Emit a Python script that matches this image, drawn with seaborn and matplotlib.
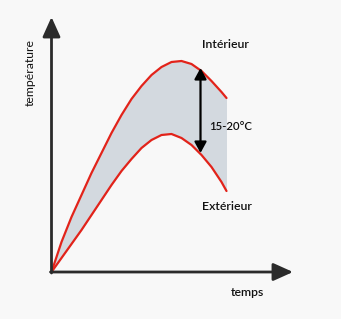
import numpy as np
import pandas as pd
import matplotlib
matplotlib.use("Agg")
import matplotlib.pyplot as plt
import seaborn as sns

# time (arbitrary units) and temperature (arbitrary units)
temps = [0, 10, 20, 30, 40, 50, 60, 70, 80, 90, 100, 110, 120, 130, 140, 150, 160, 170, 175]
interieur = [0, 30, 55, 77, 99, 119, 139, 157, 173, 186, 197, 205, 210, 211, 208, 201, 191, 180, 174]
exterieur = [0, 14, 28, 42, 57, 72, 87, 101, 113, 124, 132, 137, 138, 134, 127, 117, 105, 90, 81]
labels = {"int": "Intérieur", "ext": "Extérieur", "delta": "15-20°C", "x": "temps", "y": "température"}
arrow_t = 149
arrow_range = [204, 119]

sns.set_theme(style="white")
plt.rcParams['font.family'] = ['Lato', 'DejaVu Sans']

bg = "#f8f8f8"
fig = plt.figure(figsize=(3.41, 3.19), dpi=100, facecolor=bg)
ax = fig.add_axes([0, 0, 1, 1])
ax.set_facecolor(bg)

df = pd.DataFrame({"t": temps, "int": interieur, "ext": exterieur})
ax.fill_between(df["t"], df["ext"], df["int"], color="#d3d9df", lw=0, zorder=1)
sns.lineplot(data=df, x="t", y="int", ax=ax, color="#e2231a", lw=1.6, zorder=3)
sns.lineplot(data=df, x="t", y="ext", ax=ax, color="#e2231a", lw=1.6, zorder=3)
ax.set_xlim(-51.5, 341 - 51.5)
ax.set_ylim(272 - 319, 272)
ax.axis("off")

axcol = "#2b2b2b"
# axes arrows
ax.annotate("", xy=(0, 255), xytext=(0, -1),
            arrowprops=dict(arrowstyle="-|>,head_length=1.0,head_width=0.45", color=axcol, lw=2,
                            shrinkA=0, shrinkB=0), zorder=4)
ax.annotate("", xy=(241.5, 0), xytext=(-1, 0),
            arrowprops=dict(arrowstyle="-|>,head_length=1.0,head_width=0.45", color=axcol, lw=2,
                            shrinkA=0, shrinkB=0), zorder=4)
# double arrow
ax.annotate("", xy=(arrow_t, arrow_range[0]), xytext=(arrow_t, arrow_range[1]),
            arrowprops=dict(arrowstyle="<|-|>,head_length=0.55,head_width=0.3", color="black", lw=1.6,
                            shrinkA=0, shrinkB=0), zorder=5)

tc = "#111111"
fw = "semibold"
ax.text(173.5, 227, labels["int"], ha="center", va="center", fontsize=8.8, color=tc, fontweight=fw)
ax.text(175.5, 66, labels["ext"], ha="center", va="center", fontsize=8.8, color=tc, fontweight=fw)
ax.text(157.5, 145, labels["delta"], ha="left", va="center", fontsize=8.2, color=tc, fontweight=fw)
ax.text(195.5, -21, labels["x"], ha="center", va="center", fontsize=8.8, color=tc, fontweight=fw)
ax.text(-21.5, 199, labels["y"], ha="center", va="center", fontsize=8.8, color=tc, rotation=90,
        fontweight="normal")

fig.savefig("out.png", dpi=100, facecolor=bg)
